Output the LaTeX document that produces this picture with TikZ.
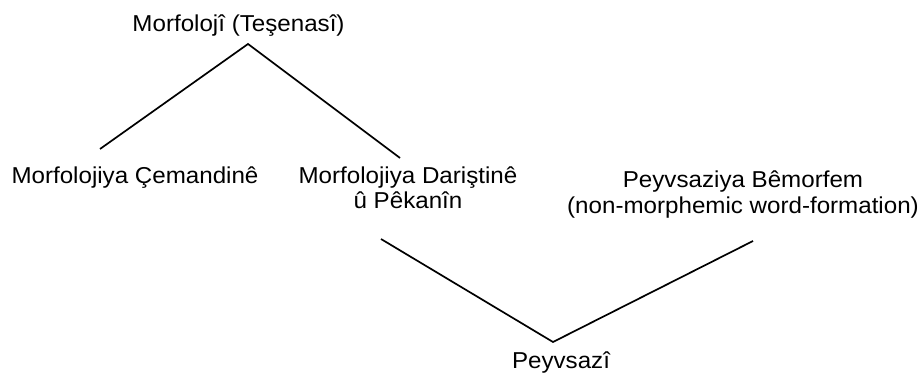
\documentclass[tikz,border=0pt]{standalone}
\usepackage{fontspec}
\setmainfont{Liberation Sans}[FakeStretch=1.05]
\begin{document}
\begin{tikzpicture}[x=1pt,y=-1pt,
  label/.style={inner sep=0pt, anchor=base, align=center,
    font=\fontsize{23}{25}\selectfont},
  branch/.style={line width=1.7pt, line join=miter, black}]
  \useasboundingbox (0,0) rectangle (923,374);

  % labels (base anchor sits on the last line of each label)
  \node[label] (morph) at (238.5,32) {Morfolojî (Teşenasî)};
  \node[label] (infl)  at (135,183) {Morfolojiya Çemandinê};
  \node[label] (deriv) at (408,208) {Morfolojiya Dariştinê\\û Pêkanîn};
  \node[label] (nonm)  at (743,213) {Peyvsaziya Bêmorfem\\(non-morphemic word-formation)};
  \node[label] (wordf) at (561,368) {Peyvsazî};

  % branch points
  \coordinate (topApex)  at (248,44);
  \coordinate (topLeft)  at (100,149);
  \coordinate (topRight) at (400,158);
  \coordinate (botLeft)  at (381,239);
  \coordinate (botApex)  at (553,342);
  \coordinate (botRight) at (753,241);

  \draw[branch] (topLeft) -- (topApex) -- (topRight);
  \draw[branch] (botLeft) -- (botApex) -- (botRight);
\end{tikzpicture}
\end{document}
